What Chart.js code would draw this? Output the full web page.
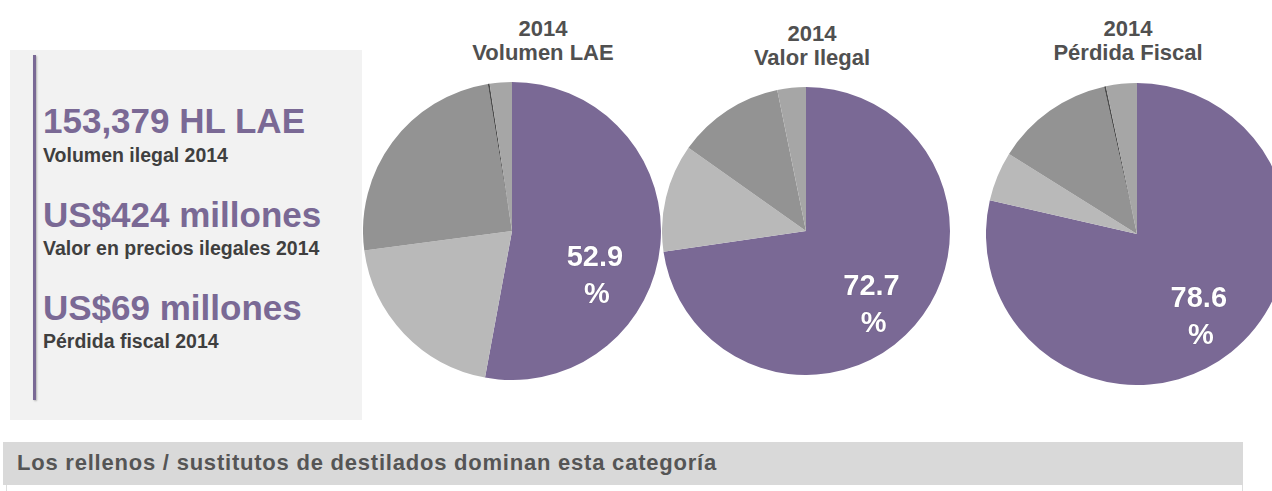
<!DOCTYPE html>
<html>
<head>
<meta charset="utf-8">
<script src="https://cdn.jsdelivr.net/npm/chart.js@4.4.0/dist/chart.umd.min.js"></script>
<style>
  body { margin: 0; width: 1272px; height: 491px; background: #fff; position: relative; overflow: hidden;
         font-family: "Liberation Sans", Arial, sans-serif; }
  .abs { position: absolute; }
  #panel { left: 10px; top: 50px; width: 352px; height: 370px; background: #f2f2f2; }
  #bar { left: 33px; top: 55px; width: 3px; height: 345px; background: #7a6995; box-shadow: 1px 1px 2px rgba(0,0,0,0.25); }
  .big { left: 43px; font-size: 35px; line-height: 35px; font-weight: bold; color: #7a6995; white-space: nowrap; }
  .small { left: 43px; font-size: 19.5px; line-height: 19px; font-weight: bold; color: #3f3f3f; white-space: nowrap; }
  .title { font-size: 22px; line-height: 24px; font-weight: bold; color: #505050; text-align: center; width: 240px; }
  #foot { left: 3px; top: 442px; width: 1240px; height: 43px; background: #d9d9d9; }
  #footText { left: 17px; top: 452px; font-size: 22px; line-height: 22px; letter-spacing: 0.78px; font-weight: bold; color: #555555; white-space: nowrap; }
  #footBelow { left: 6px; top: 485px; width: 1235px; height: 10px; border-left: 1px solid #ddd; border-right: 1px solid #ddd; }
</style>
</head>
<body>
<div class="abs" id="panel"></div>
<div class="abs" id="bar"></div>
<div class="abs big" style="top:103px">153,379 HL LAE</div>
<div class="abs small" style="top:146px">Volumen ilegal 2014</div>
<div class="abs big" style="top:197px">US$424 millones</div>
<div class="abs small" style="top:239px">Valor en precios ilegales 2014</div>
<div class="abs big" style="top:290px">US$69 millones</div>
<div class="abs small" style="top:332px">Pérdida fiscal 2014</div>

<div class="abs title" style="left:423px; top:17px">2014<br>Volumen LAE</div>
<div class="abs title" style="left:692px; top:22px">2014<br>Valor Ilegal</div>
<div class="abs title" style="left:1008px; top:17px">2014<br>Pérdida Fiscal</div>

<canvas class="abs" id="pie1" width="298" height="298" style="left:363px; top:82px"></canvas>
<canvas class="abs" id="pie2" width="288" height="288" style="left:662px; top:87px"></canvas>
<canvas class="abs" id="pie3" width="302" height="302" style="left:986px; top:83px"></canvas>

<div class="abs" id="foot"></div>
<div class="abs" id="footBelow"></div>
<div class="abs" id="footText">Los rellenos / sustitutos de destilados dominan esta categoría</div>

<script>
// segments of the illegal market (only the first one is labelled in the picture)
const categories = ['Rellenos / sustitutos', 'Segmento 2', 'Segmento 3', 'Segmento 4', 'Segmento 5'];
const volumenLAE = [52.9, 20.0, 24.5, 0.2, 2.4];
const valorIlegal = [72.7, 12.1, 12.0, 0, 3.2];
const perdidaFiscal = [78.6, 5.3, 12.6, 0.2, 3.3];
const sliceColors = ['#7a6995', '#b9b9b9', '#939393', '#4d4d4d', '#a6a6a6'];

// draws "xx.x\n%" inside the first (purple) slice
const pctLabel = {
  id: 'pctLabel',
  afterDatasetsDraw(chart, args, opts) {
    const arc = chart.getDatasetMeta(0).data[0];
    const value = chart.data.datasets[0].data[0];
    const p = arc.getProps(['x', 'y', 'outerRadius'], true);
    const a = (opts.angle - 90) * Math.PI / 180;
    const cx = p.x + Math.cos(a) * p.outerRadius * opts.dist;
    const cy = p.y + Math.sin(a) * p.outerRadius * opts.dist;
    const ctx = chart.ctx;
    ctx.save();
    ctx.fillStyle = '#ffffff';
    ctx.font = 'bold 29px "Liberation Sans", Arial, sans-serif';
    ctx.textAlign = 'center';
    ctx.textBaseline = 'alphabetic';
    ctx.shadowColor = 'rgba(0,0,0,0.35)';
    ctx.shadowBlur = 1;
    ctx.fillText(value.toFixed(1), cx, cy - 9);
    ctx.fillText('%', cx + 2, cy + 28);
    ctx.restore();
  }
};

function makePie(id, values, labelAngle, labelDist) {
  new Chart(document.getElementById(id), {
    type: 'pie',
    data: {
      labels: categories,
      datasets: [{
        data: values,
        backgroundColor: sliceColors,
        borderWidth: 0
      }]
    },
    options: {
      responsive: false,
      animation: false,
      layout: { padding: 0 },
      plugins: {
        legend: { display: false },
        tooltip: { enabled: false },
        pctLabel: { angle: labelAngle, dist: labelDist }
      }
    },
    plugins: [pctLabel]
  });
}

makePie('pie1', volumenLAE, 118, 0.63);
makePie('pie2', valorIlegal, 138, 0.68);
makePie('pie3', perdidaFiscal, 143, 0.68);
</script>
</body>
</html>
